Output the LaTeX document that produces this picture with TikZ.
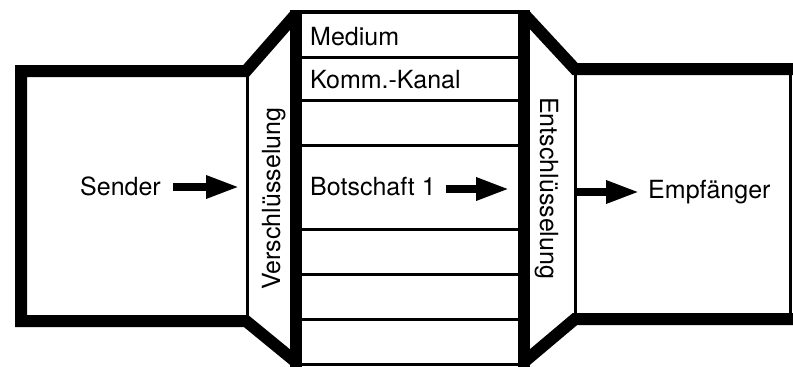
\documentclass[tikz,border=0pt]{standalone}
\usepackage{fontspec}
\setmainfont{TeX Gyre Heros}
\usetikzlibrary{arrows.meta}
\begin{document}
\begin{tikzpicture}[x=1pt,y=-1pt,
  thickline/.style={line width=12pt, line join=miter, line cap=butt},
  thinline/.style={line width=3pt},
  topline/.style={line width=4pt},
  lbl/.style={font=\fontsize{25}{30}\selectfont, inner sep=0pt, anchor=base west},
  bigarrow/.style={line width=8.5pt, -{Triangle[length=34pt,width=21pt]}}]
\useasboundingbox (0,0) rectangle (793,367);
\fill[white] (0,0) rectangle (793,367);
% middle column
\draw[topline] (296,12) -- (524,12);
\draw[thinline] (296,364) -- (524,364);
\foreach \yy in {57,100,145,229,274,319} \draw[thinline] (296,\yy) -- (524,\yy);
\draw[thickline] (296,10) -- (296,367);
\draw[thickline] (524,10) -- (524,367);
% left box (sender) and encoding panel
\draw[thickline] (296,14) -- (246,71) -- (21,71) -- (21,321) -- (246,321) -- (296,362);
\draw[thinline] (247,71) -- (247,321);
% right box (receiver) and decoding panel
\draw[thickline] (524,14) -- (575,69) -- (793,69);
\draw[thickline] (793,319) -- (575,319) -- (524,362);
\draw[thinline] (575,69) -- (575,319);
\draw[thinline] (790,69) -- (790,319);
% texts
\node[lbl] (medium) at (310,45) {Medium};
\node[lbl] (kanal) at (310,88) {Komm.-Kanal};
\node[lbl] (botschaft) at (310,195) {Botschaft 1};
\node[lbl] (sender) at (80,195) {Sender};
\node[lbl] (empf) at (648,198) {Empfänger};
\node[lbl, rotate=90] (versch) at (280,290) {Verschlüsselung};
\node[lbl, rotate=-90] (entsch) at (540,97) {Entschlüsselung};
% arrows
\coordinate (a1s) at (173,187);
\coordinate (a1e) at (240,187);
\coordinate (a2s) at (446,189);
\coordinate (a2e) at (510,189);
\coordinate (a3s) at (575,192);
\coordinate (a3e) at (640,192);
\draw[bigarrow] (a1s) -- (a1e);
\draw[bigarrow] (a2s) -- (a2e);
\draw[bigarrow] (a3s) -- (a3e);
\end{tikzpicture}
\end{document}
